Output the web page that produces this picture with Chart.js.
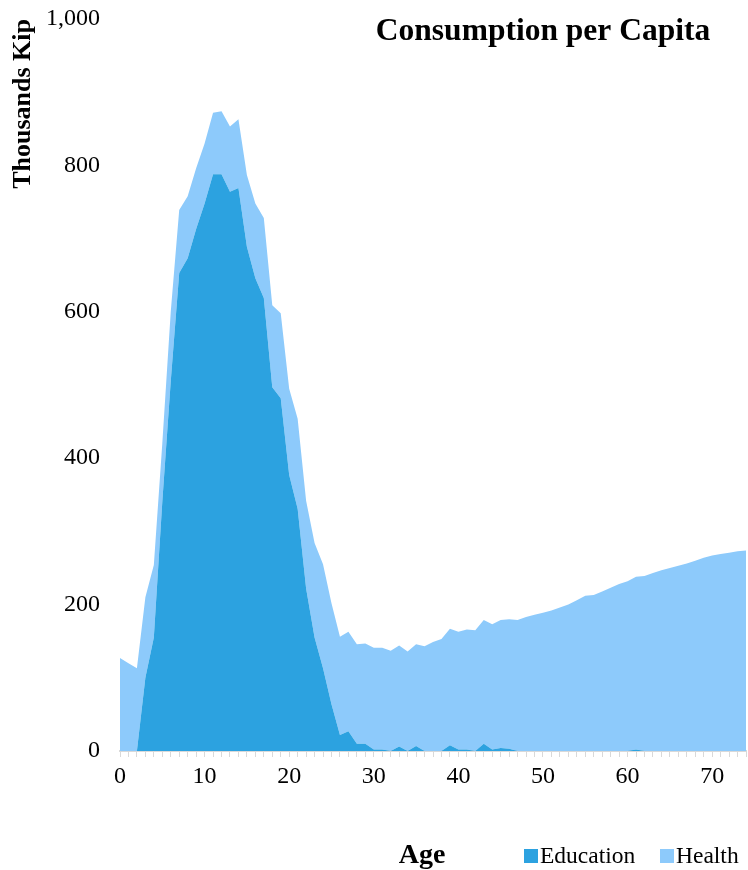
<!DOCTYPE html>
<html>
<head>
<meta charset="utf-8">
<script src="https://cdn.jsdelivr.net/npm/chart.js@4"></script>
<style>
  body { margin: 0; background: #fff; }
  #wrap { width: 748px; height: 870px; position: relative; }
</style>
</head>
<body>
<div id="wrap"><canvas id="myChart"></canvas></div>
<script>
// ages 0..74
const ages = [];
for (let a = 0; a <= 74; a++) ages.push(String(a));

// education per capita, thousands kip
const education = [0,0,0,100,155,340,505,653,673,713,
  748,788,788,764,769,689,646,619,497,482,
  377,331,222,155,113,64,22,27,10,10,
  2,2,0,6,0,7,0,0,0,8,
  2,2,0,10,2,4,3,0,0,0,
  0,0,0,0,0,0,0,0,0,0,
  0,2,0,0,0,0,0,0,0,0,
  0,0,0,0,0];

// total (education + health)
const total = [127,120,113,210,254,420,600,739,758,796,
  830,872,874,853,863,787,748,728,609,598,
  495,454,342,284,255,202,156,163,146,147,
  141,141,137,144,136,146,143,149,153,167,
  163,166,165,179,173,179,180,179,183,186,
  189,192,196,200,206,212,213,218,223,228,
  232,238,239,243,247,250,253,256,260,264,
  267,269,271,273,274];

const health = total.map((t, i) => t - education[i]);

const serif = "'Liberation Serif', 'Times New Roman', serif";

// title, x-axis label and legend drawn on the canvas
const extraText = {
  id: 'extraText',
  afterDraw(chart) {
    const ctx = chart.ctx;
    ctx.save();
    ctx.fillStyle = '#000';
    ctx.textAlign = 'center';
    ctx.textBaseline = 'middle';
    ctx.font = "bold 31.5px " + serif;
    ctx.fillText('Consumption per Capita', 543, 32);
    ctx.font = "bold 28px " + serif;
    ctx.fillText('Age', 422, 856);

    // legend
    const boxX = [524, 660];
    ctx.textAlign = 'left';
    ctx.font = "23.5px " + serif;
    chart.data.datasets.forEach((ds, i) => {
      ctx.fillStyle = ds.backgroundColor;
      ctx.fillRect(boxX[i], 849, 14, 14);
      ctx.fillStyle = '#000';
      ctx.fillText(ds.label, boxX[i] + 16, 857);
    });
    ctx.restore();
  }
};

new Chart(document.getElementById('myChart'), {
  type: 'line',
  data: {
    labels: ages,
    datasets: [{
      label: 'Education',
      data: education,
      backgroundColor: '#2ca2e0',
      borderColor: '#2ca2e0',
      borderWidth: 0,
      pointRadius: 0,
      fill: 'origin'
    }, {
      label: 'Health',
      data: health,
      backgroundColor: '#8dcafb',
      borderColor: '#8dcafb',
      borderWidth: 0,
      pointRadius: 0,
      fill: '-1'
    }]
  },
  options: {
    responsive: true,
    maintainAspectRatio: false,
    animation: false,
    layout: { padding: { top: 19, right: 2, left: 0, bottom: 0 } },
    plugins: {
      legend: { display: false },
      tooltip: { enabled: false }
    },
    scales: {
      x: {
        grid: { drawOnChartArea: false, color: '#d9d9d9', tickLength: 6 },
        border: { color: '#d9d9d9', width: 2 },
        ticks: {
          autoSkip: false,
          maxRotation: 0,
          padding: 5,
          color: '#000',
          font: { family: serif, size: 24 },
          callback: function(val, idx) { return idx % 10 === 0 ? this.getLabelForValue(val) : ''; }
        },
        afterFit(scale) {
          scale.height = 119;
          scale.paddingRight = 0;
        }
      },
      y: {
        stacked: true,
        min: 0,
        max: 1000,
        grid: { display: false },
        border: { display: false },
        ticks: {
          stepSize: 200,
          padding: 12,
          color: '#000',
          font: { family: serif, size: 24 }
        },
        title: {
          display: true,
          text: 'Thousands Kip',
          align: 'end',
          color: '#000',
          font: { family: serif, size: 26, weight: 'bold' },
          padding: { top: 8, bottom: 0 }
        },
        afterFit(scale) {
          scale.width = 120;
          scale.paddingTop = 0;
          scale.paddingBottom = 0;
        }
      }
    }
  },
  plugins: [extraText]
});
</script>
</body>
</html>
